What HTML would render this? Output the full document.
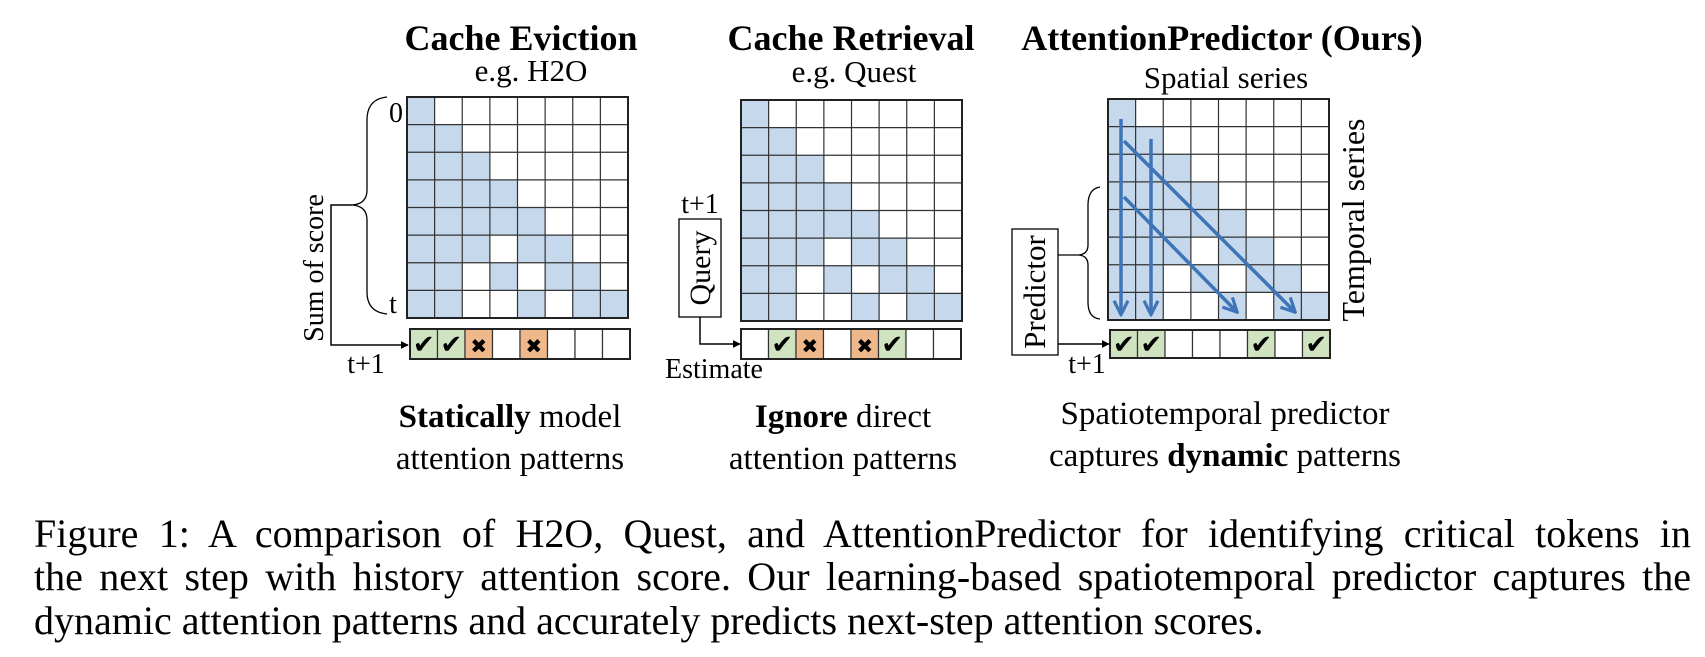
<!DOCTYPE html>
<html><head><meta charset="utf-8"><style>
html,body{margin:0;padding:0;background:#fff;}
svg{display:block;}
.cap{position:absolute;left:34px;width:1657px;font-family:"Liberation Serif",serif;font-size:40px;line-height:40px;text-align:justify;text-align-last:justify;white-space:nowrap;}
</style></head><body>
<div style="position:relative;width:1705px;height:657px;overflow:hidden;">
<svg width="1705" height="657" viewBox="0 0 1705 657" xmlns="http://www.w3.org/2000/svg" font-family="Liberation Serif, serif">
<defs>
<marker id="ah" viewBox="0 0 10 10" refX="9" refY="5" markerWidth="8" markerHeight="8" orient="auto" markerUnits="userSpaceOnUse"><path d="M0,0 L10,5 L0,10 z" fill="#000"/></marker>
<marker id="bh" viewBox="0 0 10 10" refX="8" refY="5" markerWidth="5" markerHeight="5" orient="auto"><path d="M1,1 L9,5 L1,9" fill="none" stroke="#3e74b8" stroke-width="1.8"/></marker>
</defs>
<g font-weight="bold" font-size="36" text-anchor="middle">
<text x="521" y="50">Cache Eviction</text>
<text x="851" y="50">Cache Retrieval</text>
<text x="1222" y="50">AttentionPredictor (Ours)</text>
</g>
<g font-size="31" text-anchor="middle">
<text x="531" y="81">e.g. H2O</text>
<text x="854" y="82">e.g. Quest</text>
<text x="1226" y="88">Spatial series</text>
</g>
<g id="grids"></g>
<path d="M387,97 Q367,99 367,120 L367,190 Q367,204 352,205 Q367,206 367,220 L367,292 Q367,312 387,314" fill="none" stroke="#000" stroke-width="1.3"/>
<polyline points="352,205 331,205 331,345 408,345" fill="none" stroke="#000" stroke-width="1.5" marker-end="url(#ah)"/>
<rect x="679" y="219" width="42" height="98" fill="#fff" stroke="#000" stroke-width="1.3"/>
<polyline points="700,317 700,344 740,344" fill="none" stroke="#000" stroke-width="1.5" marker-end="url(#ah)"/>
<rect x="1012" y="229" width="46" height="126" fill="#fff" stroke="#000" stroke-width="1.3"/>
<path d="M1100,187 Q1088,189 1088,205 L1088,245 Q1088,254 1079,255 Q1088,256 1088,265 L1088,302 Q1088,318 1100,319" fill="none" stroke="#000" stroke-width="1.3"/>
<line x1="1058" y1="255" x2="1079" y2="255" stroke="#000" stroke-width="1.3"/>
<line x1="1058" y1="344" x2="1109" y2="344" stroke="#000" stroke-width="1.5" marker-end="url(#ah)"/>
<g font-size="28" text-anchor="middle">
<text x="396" y="122">0</text>
<text x="393" y="313">t</text>
<text x="366" y="373">t+1</text>
<text x="700" y="213">t+1</text>
<text x="714" y="378">Estimate</text>
<text x="1087" y="373">t+1</text>
<text transform="translate(323,268) rotate(-90)">Sum of score</text>
<text font-size="30" transform="translate(710,268) rotate(-90)">Query</text>
<text font-size="31" transform="translate(1045,292) rotate(-90)">Predictor</text>
<text font-size="32" transform="translate(1364,220) rotate(-90)">Temporal series</text>
</g>
<g font-size="33" text-anchor="middle">
<text x="510" y="427"><tspan font-weight="bold">Statically</tspan> model</text>
<text x="510" y="469">attention patterns</text>
<text x="843" y="427"><tspan font-weight="bold">Ignore</tspan> direct</text>
<text x="843" y="469">attention patterns</text>
<text x="1225" y="424">Spatiotemporal predictor</text>
<text x="1225" y="466">captures <tspan font-weight="bold">dynamic</tspan> patterns</text>
</g>
</svg>
<div class="cap" style="top:514px;">Figure 1: A comparison of H2O, Quest, and AttentionPredictor for identifying critical tokens in</div>
<div class="cap" style="top:557px;">the next step with history attention score. Our learning-based spatiotemporal predictor captures the</div>
<div class="cap" style="top:601px;text-align:left;text-align-last:left;width:auto;">dynamic attention patterns and accurately predicts next-step attention scores.</div>
</div>
<script>
(function(){
var NS="http://www.w3.org/2000/svg";
var g=document.getElementById("grids");
var pat=["10000000","11000000","11100000","11110000","11111000","11101100","11010110","11001011"];
function el(t,a){var e=document.createElementNS(NS,t);for(var k in a)e.setAttribute(k,a[k]);g.appendChild(e);return e;}
function grid(x,y,w){var c=w/8;
 for(var r=0;r<8;r++)for(var q=0;q<8;q++)el("rect",{x:x+q*c,y:y+r*c,width:c,height:c,fill:pat[r][q]=="1"?"#c5d8ec":"#fff"});
 for(var i=1;i<8;i++){el("line",{x1:x+i*c,y1:y,x2:x+i*c,y2:y+w,stroke:"#333","stroke-width":1.2});el("line",{x1:x,y1:y+i*c,x2:x+w,y2:y+i*c,stroke:"#333","stroke-width":1.2});}
 el("rect",{x:x,y:y,width:w,height:w,fill:"none",stroke:"#222","stroke-width":2});}
function bar(x,y,w,h,s){var c=w/8;
 for(var i=0;i<8;i++){var k=s[i];el("rect",{x:x+i*c,y:y,width:c,height:h,fill:k=="g"?"#cfe3c0":k=="o"?"#efb88a":"#fff",stroke:"#333","stroke-width":1.2});
  if(k!="w"){var t=el("text",{x:x+i*c+c/2,y:y+h/2+9,"text-anchor":"middle","font-size":k=="g"?26:20,"font-family":"DejaVu Sans, sans-serif","font-weight":"bold"});t.textContent=k=="g"?"\u2714":"\u2716";}}
 el("rect",{x:x,y:y,width:w,height:h,fill:"none",stroke:"#222","stroke-width":2});}
grid(407,97,221);grid(741,100,221);grid(1108,99,221);
bar(410,329,220,30,"ggowowww");bar(741,329,220,30,"wgowogww");bar(1110,330,220,28,"ggwwwgwg");
function ar(x1,y1,x2,y2){el("line",{x1:x1,y1:y1,x2:x2,y2:y2,stroke:"#3e74b8","stroke-width":3.5,"marker-end":"url(#bh)"});}
ar(1121,119,1121,313);ar(1151,139,1151,313);ar(1124,141,1294,311);ar(1124,197,1236,311);
})();
</script>
</body></html>
